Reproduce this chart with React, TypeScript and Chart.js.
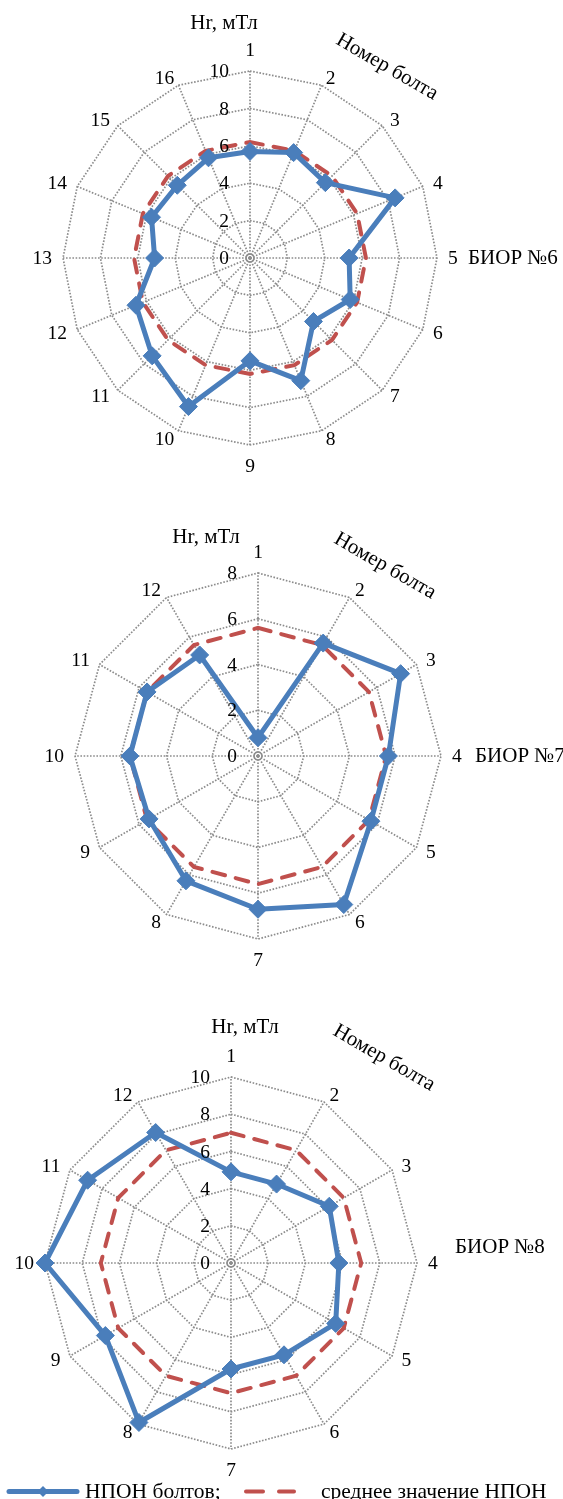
import React, { useEffect, useRef } from "react";
import { Chart, registerables } from "chart.js";

Chart.register(...registerables);

// ---------- data ----------
const bolts6 = ["1", "2", "3", "4", "5", "6", "7", "8", "9", "10", "11", "12", "13", "14", "15", "16"];
const npon6 = [5.7, 6.1, 5.7, 8.4, 5.3, 5.8, 4.8, 7.1, 5.5, 8.6, 7.4, 6.6, 5.1, 5.7, 5.5, 5.8];
const mean6 = [6.2, 6.2, 6.2, 6.2, 6.2, 6.2, 6.2, 6.2, 6.2, 6.2, 6.2, 6.2, 6.2, 6.2, 6.2, 6.2];
const ticks6 = [0, 2, 4, 6, 8, 10];

const bolts7 = ["1", "2", "3", "4", "5", "6", "7", "8", "9", "10", "11", "12"];
const npon7 = [0.8, 5.7, 7.2, 5.7, 5.7, 7.5, 6.7, 6.3, 5.5, 5.6, 5.6, 5.1];
const mean7 = [5.6, 5.6, 5.6, 5.6, 5.6, 5.6, 5.6, 5.6, 5.6, 5.6, 5.6, 5.6];
const ticks7 = [0, 2, 4, 6, 8];

const bolts8 = ["1", "2", "3", "4", "5", "6", "7", "8", "9", "10", "11", "12"];
const npon8 = [4.9, 4.9, 6.1, 5.8, 6.5, 5.7, 5.7, 9.9, 7.8, 10.0, 8.9, 8.1];
const mean8 = [7.0, 7.0, 7.0, 7.0, 7.0, 7.0, 7.0, 7.0, 7.0, 7.0, 7.0, 7.0];
const ticks8 = [0, 2, 4, 6, 8, 10];

const axisTitle = "Hr, мТл";
const boltTitle = "Номер болта";
const seriesName = "НПОН болтов;";
const meanName = "среднее значение НПОН";

// ---------- styles ----------
const BLUE = "#4a7ebb";
const RED = "#c0504d";
const GRID = "#8c8c8c";
const FONT = '"Liberation Serif", "Times New Roman", serif';
const DOTS = [1.6, 1.6];

type Cfg = {
  top: number;
  height: number;
  pad: { left: number; right: number; top: number; bottom: number };
  labels: string[];
  values: number[];
  mean: number[];
  ticks: number[];
  biorName: string;
  hrPos: [number, number];
  boltPos: [number, number];
  biorPos: [number, number];
  legend?: boolean;
};

function overlay(cfg: Cfg) {
  return {
    id: "overlay",
    beforeDatasetsDraw(chart: any) {
      const r = chart.scales.r;
      const ctx = chart.ctx as CanvasRenderingContext2D;
      const xc = r.xCenter, yc = r.yCenter, R = r.drawingArea;
      ctx.save();
      // centre ring
      ctx.strokeStyle = GRID;
      ctx.lineWidth = 1.5;
      ctx.beginPath();
      ctx.arc(xc, yc, 4, 0, Math.PI * 2);
      ctx.stroke();
      ctx.fillStyle = GRID;
      ctx.beginPath();
      ctx.arc(xc, yc, 1.5, 0, Math.PI * 2);
      ctx.fill();

      // point labels
      ctx.fillStyle = "#000";
      ctx.font = `19.5px ${FONT}`;
      ctx.textAlign = "center";
      ctx.textBaseline = "middle";
      const labels = chart.data.labels as string[];
      labels.forEach((lab, i) => {
        const p = r.getPointPosition(i, R);
        const s = (p.x - xc) / R;
        const c = -(p.y - yc) / R;
        const w = ctx.measureText(lab).width;
        let x: number, y: number;
        if (Math.abs(s) < 0.01) {
          x = p.x;
          y = p.y - Math.sign(c) * 21;
        } else {
          x = p.x + s * 11 + Math.sign(s) * (w / 2);
          y = p.y - c * 8.5;
        }
        ctx.fillText(lab, x, y + 1);
      });

      // titles
      ctx.font = `21px ${FONT}`;
      ctx.fillText(axisTitle, cfg.hrPos[0], cfg.hrPos[1]);
      ctx.save();
      ctx.translate(cfg.boltPos[0], cfg.boltPos[1]);
      ctx.rotate((30 * Math.PI) / 180);
      ctx.fillText(boltTitle, 0, 0);
      ctx.restore();
      ctx.textAlign = "left";
      ctx.fillText(cfg.biorName, cfg.biorPos[0], cfg.biorPos[1]);
      ctx.restore();
    },
    afterDatasetsDraw(chart: any) {
      const r = chart.scales.r;
      const ctx = chart.ctx as CanvasRenderingContext2D;
      const xc = r.xCenter, yc = r.yCenter;
      ctx.save();
      ctx.fillStyle = "#000";
      ctx.font = `19.5px ${FONT}`;
      ctx.textAlign = "right";
      ctx.textBaseline = "middle";
      cfg.ticks.forEach((v) => {
        const d = r.getDistanceFromCenterForValue(v);
        ctx.fillText(String(v), xc - 21, yc - d + 1);
      });

      if (cfg.legend) {
        const ly = chart.height - 7.5;
        ctx.lineCap = "round";
        ctx.strokeStyle = BLUE;
        ctx.lineWidth = 5;
        ctx.beginPath();
        ctx.moveTo(9, ly);
        ctx.lineTo(77, ly);
        ctx.stroke();
        ctx.fillStyle = BLUE;
        ctx.beginPath();
        ctx.moveTo(43, ly - 5.5);
        ctx.lineTo(48.5, ly);
        ctx.lineTo(43, ly + 5.5);
        ctx.lineTo(37.5, ly);
        ctx.closePath();
        ctx.fill();
        ctx.strokeStyle = RED;
        ctx.lineWidth = 4;
        ctx.beginPath();
        ctx.moveTo(246, ly);
        ctx.lineTo(263, ly);
        ctx.moveTo(279, ly);
        ctx.lineTo(294, ly);
        ctx.stroke();
        ctx.fillStyle = "#000";
        ctx.font = `21.5px ${FONT}`;
        ctx.textAlign = "left";
        ctx.textBaseline = "alphabetic";
        ctx.fillText(seriesName, 85, chart.height - 1);
        ctx.fillText(meanName, 321, chart.height - 1);
      }
      ctx.restore();
    },
  };
}

function RadarChart({ cfg }: { cfg: Cfg }) {
  const ref = useRef<HTMLCanvasElement | null>(null);
  useEffect(() => {
    if (!ref.current) return;
    const max = cfg.ticks[cfg.ticks.length - 1];
    const chart = new Chart(ref.current, {
      type: "radar",
      data: {
        labels: cfg.labels,
        datasets: [
          {
            label: seriesName,
            data: cfg.values,
            borderColor: BLUE,
            backgroundColor: BLUE,
            borderWidth: 5,
            borderJoinStyle: "round",
            pointStyle: "rectRot",
            pointRadius: 9,
            pointBorderWidth: 1,
            pointBackgroundColor: BLUE,
            pointBorderColor: BLUE,
            fill: false,
            tension: 0,
          },
          {
            label: meanName,
            data: cfg.mean,
            borderColor: RED,
            backgroundColor: RED,
            borderWidth: 4,
            borderDash: [13, 11],
            borderCapStyle: "round",
            pointRadius: 0,
            fill: false,
            tension: 0,
          },
        ],
      },
      options: {
        animation: false,
        responsive: false,
        maintainAspectRatio: false,
        devicePixelRatio: 1,
        layout: { padding: cfg.pad },
        plugins: {
          legend: { display: false },
          tooltip: { enabled: false },
          title: { display: false },
        },
        scales: {
          r: {
            min: 0,
            max,
            beginAtZero: true,
            ticks: { display: false, stepSize: 2 },
            pointLabels: { display: false },
            grid: { color: GRID, lineWidth: 1.7, borderDash: DOTS } as any,
            border: { dash: DOTS } as any,
            angleLines: { color: GRID, lineWidth: 1.7, borderDash: DOTS },
          },
        },
      },
      plugins: [overlay(cfg)],
    });
    return () => chart.destroy();
  }, [cfg]);
  return (
    <canvas
      ref={ref}
      width={563}
      height={cfg.height}
      style={{ position: "absolute", left: 0, top: cfg.top, width: 563, height: cfg.height }}
    />
  );
}

const cfg6: Cfg = {
  top: 0,
  height: 490,
  pad: { left: 63, right: 126, top: 71, bottom: 45 },
  labels: bolts6,
  values: npon6,
  mean: mean6,
  ticks: ticks6,
  biorName: "БИОР №6",
  hrPos: [224, 23],
  boltPos: [387, 67],
  biorPos: [468, 258],
};

const cfg7: Cfg = {
  top: 490,
  height: 510,
  pad: { left: 75, right: 122, top: 83, bottom: 61 },
  labels: bolts7,
  values: npon7,
  mean: mean7,
  ticks: ticks7,
  biorName: "БИОР №7",
  hrPos: [206, 47],
  boltPos: [385, 76],
  biorPos: [475, 266],
};

const cfg8: Cfg = {
  top: 1000,
  height: 499,
  pad: { left: 45, right: 146, top: 77, bottom: 50 },
  labels: bolts8,
  values: npon8,
  mean: mean8,
  ticks: ticks8,
  biorName: "БИОР №8",
  hrPos: [245, 27],
  boltPos: [384, 58],
  biorPos: [455, 247],
  legend: true,
};

export default function App() {
  return (
    <div style={{ position: "absolute", left: 0, top: 0, width: 563, height: 1499, background: "#fff", overflow: "hidden" }}>
      <RadarChart cfg={cfg6} />
      <RadarChart cfg={cfg7} />
      <RadarChart cfg={cfg8} />
    </div>
  );
}
